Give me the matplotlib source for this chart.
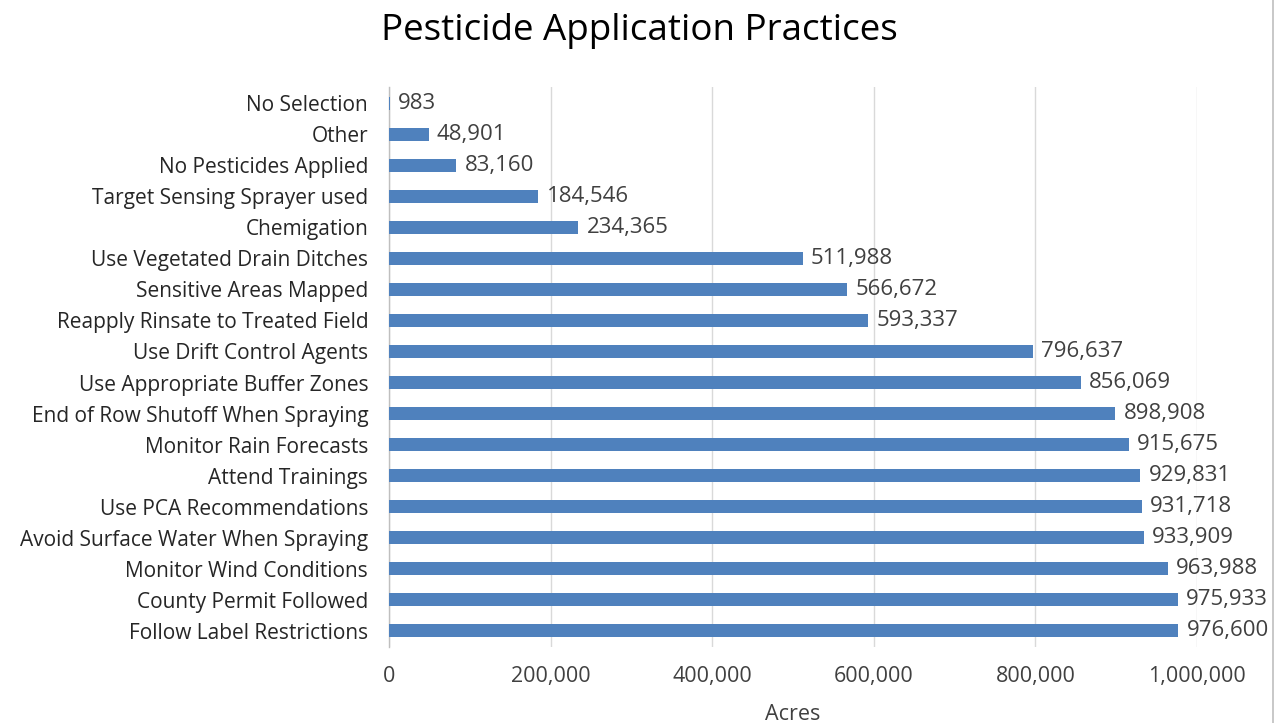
import matplotlib
matplotlib.use("Agg")
import matplotlib.pyplot as plt
from matplotlib.lines import Line2D
from matplotlib.ticker import FuncFormatter

categories = [
    "Follow Label Restrictions",
    "County Permit Followed",
    "Monitor Wind Conditions",
    "Avoid Surface Water When Spraying",
    "Use PCA Recommendations",
    "Attend Trainings",
    "Monitor Rain Forecasts",
    "End of Row Shutoff When Spraying",
    "Use Appropriate Buffer Zones",
    "Use Drift Control Agents",
    "Reapply Rinsate to Treated Field",
    "Sensitive Areas Mapped",
    "Use Vegetated Drain Ditches",
    "Chemigation",
    "Target Sensing Sprayer used",
    "No Pesticides Applied",
    "Other",
    "No Selection",
]
acres = [976600, 975933, 963988, 933909, 931718, 929831, 915675, 898908,
         856069, 796637, 593337, 566672, 511988, 234365, 184546, 83160,
         48901, 983]
xticks = [0, 200000, 400000, 600000, 800000, 1000000]

plt.rcParams['font.family'] = ['Open Sans', 'DejaVu Sans']

fig = plt.figure(figsize=(12.78, 7.23), dpi=100)
ax = fig.add_axes([389/1278, 1-647/723, (1197-389)/1278, (647-87)/723])

ypos = list(range(len(categories)))
ax.barh(ypos, acres, height=0.42, color="#4F81BD", zorder=3)

ax.set_xlim(0, 1000000)
ax.set_ylim(-0.52, len(categories) - 0.48)
ax.set_yticks(ypos)
ax.set_yticklabels(categories, fontsize=15, color="#262626")
ax.set_xticks(xticks)
ax.xaxis.set_major_formatter(FuncFormatter(lambda v, p: f"{int(v):,}"))
ax.tick_params(axis='x', labelsize=15.5, labelcolor="#404040", length=0, pad=14)
ax.tick_params(axis='y', length=0, pad=15)
ax.grid(axis='x', color="#D9D9D9", linewidth=1, zorder=0)

for s in ["top", "right", "bottom"]:
    ax.spines[s].set_visible(False)
ax.spines["left"].set_color("#BFBFBF")
ax.spines["left"].set_linewidth(1)

for y, v in zip(ypos, acres):
    ax.annotate(f"{v:,}", xy=(v, y), xytext=(6, 0), textcoords="offset points",
                va="center", ha="left", fontsize=16, color="#404040", zorder=4)

fig.text((389 + 1197) / 2 / 1278, 1 - 714/723, "Acres", ha="center", va="center",
         fontsize=15.5, color="#404040")
fig.text(0.5, 1 - 31/723, "Pesticide Application Practices", ha="center",
         va="center", fontsize=26.5, color="#000000")

fig.add_artist(Line2D([1272.5/1278, 1272.5/1278], [0, 1], transform=fig.transFigure,
                      color="#BFBFBF", linewidth=1.2))

fig.savefig("out.png", dpi=100)
